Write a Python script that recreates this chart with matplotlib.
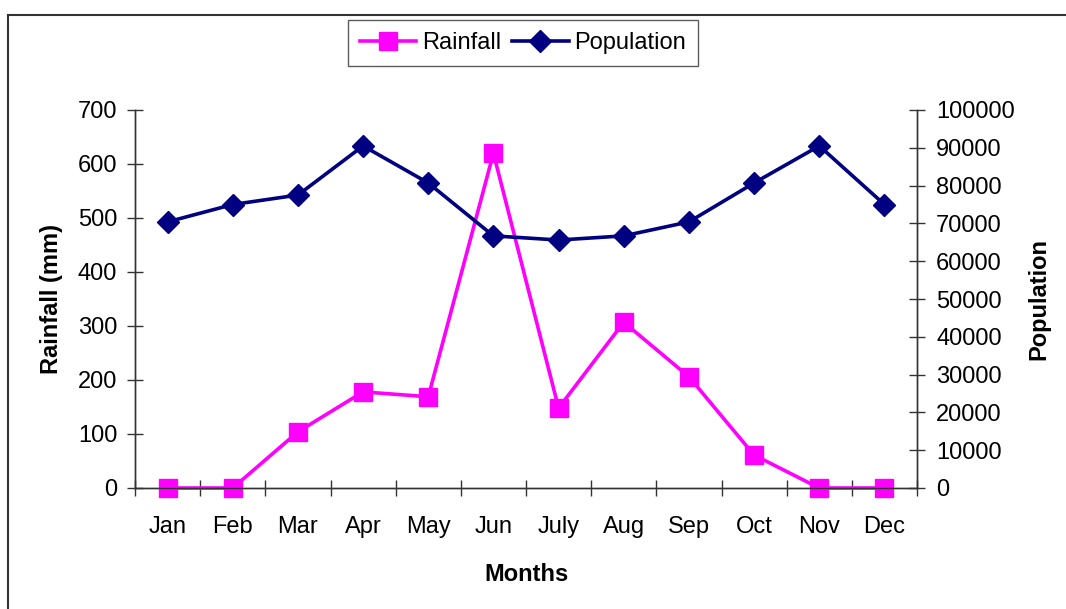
import matplotlib
matplotlib.use("Agg")
import matplotlib.pyplot as plt
from matplotlib.lines import Line2D
from matplotlib.ticker import FixedLocator, NullFormatter

months = ["Jan", "Feb", "Mar", "Apr", "May", "Jun", "July", "Aug", "Sep", "Oct", "Nov", "Dec"]
rainfall = [0, 0, 104, 178, 169, 620, 148, 307, 206, 61, 0, 0]
population = [70400, 75000, 77500, 90500, 80700, 66700, 65600, 66700, 70400, 80700, 90500, 75000]

plt.rcParams['font.family'] = ['Liberation Sans', 'DejaVu Sans']
FS = 17

W, H = 1066, 609
fig = plt.figure(figsize=(W / 100, H / 100), dpi=100)
ax1 = fig.add_axes([135 / W, 1 - 488 / H, (917 - 135) / W, (488 - 110) / H])
ax2 = ax1.twinx()

x = list(range(len(months)))
l1, = ax1.plot(x, rainfall, color='#FF00FF', lw=2.6, marker='s', markersize=13,
               label='Rainfall', clip_on=False, zorder=3)
l2, = ax2.plot(x, population, color='#000080', lw=2.6, marker='D', markersize=11,
               label='Population', clip_on=False, zorder=3)

ax1.set_xlim(-0.5, 11.5)
ax1.set_ylim(0, 700)
ax2.set_ylim(0, 100000)
ax1.set_yticks(range(0, 701, 100))
ax2.set_yticks(range(0, 100001, 10000))

TL = 11.5
ax1.xaxis.set_major_locator(FixedLocator([i - 0.5 for i in range(13)]))
ax1.xaxis.set_major_formatter(NullFormatter())
ax1.xaxis.set_minor_locator(FixedLocator(x))
ax1.set_xticklabels(months, minor=True)
ax1.tick_params(axis='x', which='major', direction='inout', length=TL, width=1, color='#333333')
ax1.tick_params(axis='x', which='minor', length=0, pad=20, labelsize=FS)
ax1.tick_params(axis='y', direction='inout', length=TL, width=1, color='#333333', pad=7, labelsize=FS)
ax2.tick_params(axis='y', direction='inout', length=TL, width=1, color='#333333', pad=8, labelsize=FS)

for a in (ax1, ax2):
    a.spines['top'].set_visible(False)
    for s in ('left', 'right', 'bottom'):
        a.spines[s].set_color('#333333')
        a.spines[s].set_linewidth(1)

ax1.set_ylabel('Rainfall (mm)', fontsize=FS, fontweight='bold', labelpad=11)
ax2.set_ylabel('Population', fontsize=FS, fontweight='bold', labelpad=9)
ax1.set_xlabel('Months', fontsize=FS, fontweight='bold', labelpad=18)

leg = fig.legend(handles=[l1, l2], loc='center', bbox_to_anchor=(523 / W, 1 - 43 / H),
                 ncol=2, fontsize=FS, frameon=True, fancybox=False, edgecolor='#333333',
                 handlelength=2.4, handletextpad=0.25, columnspacing=0.45,
                 borderpad=0.5, borderaxespad=0)
leg.get_frame().set_linewidth(1)

# outer chart frame (top and left edges visible)
fig.add_artist(Line2D([8 / W, 1.0], [1 - 15 / H, 1 - 15 / H], transform=fig.transFigure,
                      color='#333333', lw=1.5))
fig.add_artist(Line2D([8 / W, 8 / W], [0, 1 - 15 / H], transform=fig.transFigure,
                      color='#333333', lw=1.5))

fig.savefig('out.png', dpi=100)
